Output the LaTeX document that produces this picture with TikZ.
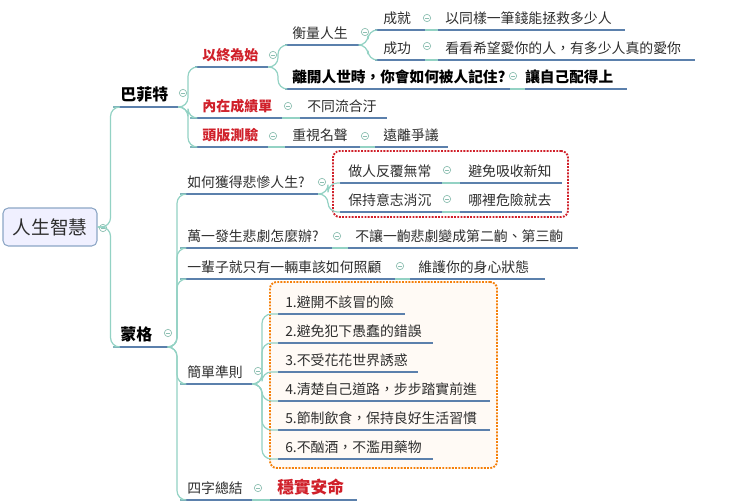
\documentclass[tikz,border=0pt]{standalone}
\usepackage{fontspec}
\setmainfont{Noto Sans CJK TC}
\usetikzlibrary{calc}
\definecolor{ul}{HTML}{5B80AC}
\definecolor{cn}{HTML}{93D2C4}
\definecolor{rd}{HTML}{D0202A}
\definecolor{tx}{HTML}{2E2E2E}
\definecolor{ic}{HTML}{8DBFB2}
\tikzset{
 uline/.style={ul,line width=1.3pt},
 conn/.style={cn,line width=0.9pt,rounded corners=7pt},
 nrm/.style={text=tx,inner sep=0,font=\fontsize{10.4}{12}\selectfont},
 bld/.style={text=black,inner sep=0,font=\fontsize{11}{13}\selectfont\bfseries},
 big/.style={text=black,inner sep=0,font=\fontsize{12}{14}\selectfont\bfseries},
 red/.style={text=rd,inner sep=0,font=\fontsize{10.5}{12}\selectfont\bfseries},
 ico/.style={circle,draw=ic,line width=0.5pt,minimum size=5.5pt,inner sep=0,
   path picture={\draw[ic,line width=0.5pt] ([xshift=-1.3pt]path picture bounding box.center)--([xshift=1.3pt]path picture bounding box.center);}},
}
% name, xstart, xend, yline, textx, style, text
\newcommand\tp[7]{%
 \coordinate (#1s) at (#2,#4); \coordinate (#1e) at (#3,#4);
 \draw[uline] (#1s)--(#1e);
 \node[#6,anchor=base west] (#1) at (#5,#4-7) {#7};}
% parent, child, dx
\newcommand\cn[3]{\draw[conn] (#1e) -- ($(#1e)+(#3,0)$) |- (#2s);}
\newcommand\ic[3]{\node[ico] (#1) at (#2,#3) {};}
\begin{document}
\begin{tikzpicture}[x=0.75pt,y=-0.75pt]
\useasboundingbox[fill=white] (0,0) rectangle (740,501);
% boxes
\node[draw=rd,densely dotted,line width=1.4pt,rounded corners=5pt,minimum width=235*0.75pt,minimum height=66*0.75pt,inner sep=0] (rbox) at (450.5,184) {};
\node[draw=orange!85!brown,fill=orange!4,densely dotted,line width=1.4pt,rounded corners=5pt,minimum width=227*0.75pt,minimum height=186*0.75pt,inner sep=0] (obox) at (383.5,375) {};
% root
\node[draw=ul!70,fill=blue!6,rounded corners=4pt,line width=0.8pt,minimum width=94*0.75pt,minimum height=38*0.75pt,font=\fontsize{14}{16}\selectfont,text=tx] (root) at (50,227) {人生智慧};
\coordinate (roote) at (root.east);
\ic{rootc}{103}{228}
% level 1
\tp{B}{113}{178}{107}{120}{big}{巴菲特}
\tp{M}{113}{172}{347}{120}{big}{蒙格}
\ic{Bc}{183}{93}\ic{Mc}{168}{333}
\cn{root}{B}{13}\cn{root}{M}{13}
% Buffett
\tp{B1}{195}{268}{67}{202}{red}{以終為始}
\tp{B2}{190}{282}{118}{202}{red}{內在成績單}
\tp{B3}{190}{268}{147}{202}{red}{頭版測驗}
\ic{B1c}{273}{55}\ic{B2c}{288}{106}\ic{B3c}{273}{136}
\cn{B}{B1}{10}\cn{B}{B2}{10}\cn{B}{B3}{10}
\tp{B11}{285}{360}{45}{292}{nrm}{衡量人生}
\tp{B12}{285}{510}{89}{292}{bld}{離開人世時，你會如何被人記住?}
\ic{B11c}{365}{32}\ic{B12c}{513}{76}
\cn{B1}{B11}{10}\cn{B1}{B12}{10}
\tp{B121}{525}{627}{89}{525}{bld}{讓自己配得上}
\draw[conn] (B12e)--(B121s);
\tp{B111}{375}{425}{30}{383}{nrm}{成就}
\tp{B112}{375}{425}{60}{383}{nrm}{成功}
\ic{B111c}{427}{18}\ic{B112c}{427}{46}
\cn{B11}{B111}{8}\cn{B11}{B112}{8}
\tp{B1111}{438}{625}{30}{445}{nrm}{以同樣一筆錢能拯救多少人}
\tp{B1121}{438}{695}{60}{445}{nrm}{看看希望愛你的人，有多少人真的愛你}
\draw[conn] (B111e)--(B1111s);\draw[conn] (B112e)--(B1121s);
\tp{B21}{300}{387}{118}{307}{nrm}{不同流合汙}
\draw[conn] (B2e)--(B21s);
\tp{B31}{285}{360}{147}{292}{nrm}{重視名聲}
\draw[conn] (B3e)--(B31s);
\ic{B31c}{365}{136}
\tp{B311}{375}{448}{147}{383}{nrm}{遠離爭議}
\draw[conn] (B31e)--(B311s);
% Munger
\tp{M1}{180}{318}{194}{187}{nrm}{如何獲得悲慘人生?}
\tp{M2}{180}{332}{248}{187}{nrm}{萬一發生悲劇怎麼辦?}
\tp{M3}{180}{395}{279}{187}{nrm}{一輩子就只有一輛車該如何照顧}
\tp{M4}{180}{252}{384}{187}{nrm}{簡單準則}
\tp{M5}{180}{252}{500}{187}{nrm}{四字總結}
\ic{M1c}{322}{182}\ic{M2c}{337}{236}\ic{M3c}{400}{266}\ic{M4c}{258}{371}\ic{M5c}{258}{488}
\cn{M}{M1}{5}\cn{M}{M2}{5}\cn{M}{M3}{5}\cn{M}{M4}{5}\cn{M}{M5}{5}
\tp{M11}{340}{442}{183}{348}{nrm}{做人反覆無常}
\tp{M12}{340}{442}{212}{348}{nrm}{保持意志消沉}
\ic{M11c}{447}{170}\ic{M12c}{447}{199}
\cn{M1}{M11}{10}\cn{M1}{M12}{10}
\tp{M111}{460}{562}{183}{468}{nrm}{避免吸收新知}
\tp{M121}{460}{562}{212}{468}{nrm}{哪裡危險就去}
\draw[conn] (M11e)--(M111s);\draw[conn] (M12e)--(M121s);
\tp{M21}{348}{578}{248}{355}{nrm}{不讓一齣悲劇變成第二齣、第三齣}
\draw[conn] (M2e)--(M21s);
\tp{M31}{410}{545}{279}{418}{nrm}{維護你的身心狀態}
\draw[conn] (M3e)--(M31s);
\tp{R1}{278}{405}{314}{285}{nrm}{1.避開不該冒的險}
\tp{R2}{278}{433}{343}{285}{nrm}{2.避免犯下愚蠢的錯誤}
\tp{R3}{278}{418}{372}{285}{nrm}{3.不受花花世界誘惑}
\tp{R4}{278}{490}{401}{285}{nrm}{4.清楚自己道路，步步踏實前進}
\tp{R5}{278}{490}{430}{285}{nrm}{5.節制飲食，保持良好生活習慣}
\tp{R6}{278}{433}{459}{285}{nrm}{6.不酗酒，不濫用藥物}
\foreach \r in {R1,R2,R3,R4,R5,R6}{\cn{M4}{\r}{10}}
\tp{M51}{270}{357}{500}{277}{red}{\fontsize{12.5}{14}\selectfont 穩實安命}
\draw[conn] (M5e)--(M51s);
\end{tikzpicture}
\end{document}
